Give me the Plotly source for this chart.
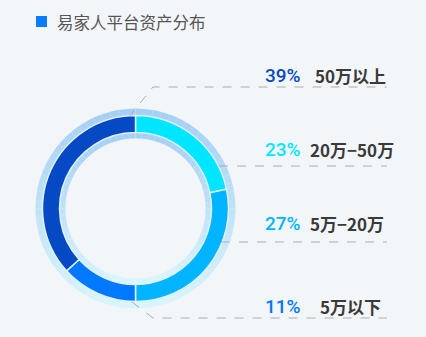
import plotly.graph_objects as go
import numpy as np

# ---- data ----
categories = ["20万-50万", "5万-20万", "5万以下", "50万以上"]
pct_labels = ["23%", "27%", "11%", "39%"]
arc_values = [21.7, 28.3, 13.3, 36.7]   # arc sizes as drawn in the picture
seg_colors = ["#00e6ff", "#00b4ff", "#0078ff", "#0549c4"]
title_text = "易家人平台资产分布"

W, H = 426, 337
cx, cy = 135.5, 208.5  # pixel centre (y from top)

def dom(r):
    x0, x1 = (cx - r) / W, (cx + r) / W
    yb = H - cy
    return dict(x=[x0, x1], y=[(yb - r) / H, (yb + r) / H])

fig = go.Figure()

# background gradient ring (style only)
n = 72
top = np.array([0xa6, 0xcf, 0xf4])
bot = np.array([0xd9, 0xf6, 0xfc])
bg_cols = []
for i in range(n):
    ang = (i + 0.5) / n * 2 * np.pi
    t = (1 - np.cos(ang)) / 2
    c = top + (bot - top) * t
    bg_cols.append("rgb(%d,%d,%d)" % tuple(c.astype(int)))
fig.add_trace(go.Pie(values=[1] * n, hole=0.70, sort=False, direction="clockwise",
                     rotation=0, marker=dict(colors=bg_cols, line=dict(width=0)),
                     textinfo="none", hoverinfo="skip", showlegend=False,
                     domain=dom(100)))

fig.add_trace(go.Pie(labels=categories, values=arc_values, hole=76 / 93, sort=False,
                     direction="clockwise", rotation=0,
                     marker=dict(colors=seg_colors, line=dict(color="#dff1fc", width=1.5)),
                     textinfo="none", hoverinfo="label", showlegend=False,
                     domain=dom(93)))

shapes = []
dash = dict(color="#a9adb3", width=1, dash="dash")
# leader lines
shapes.append(dict(type="path", path="M 129 117 L 153 87 L 387 87", line=dash, xref="x", yref="y"))
shapes.append(dict(type="line", x0=219, y0=166, x1=387, y1=166, line=dash, xref="x", yref="y"))
shapes.append(dict(type="line", x0=221, y0=242, x1=387, y1=242, line=dash, xref="x", yref="y"))
shapes.append(dict(type="path", path="M 132 302 L 153 318 L 387 318", line=dash, xref="x", yref="y"))
# title marker
shapes.append(dict(type="rect", x0=36, y0=16, x1=47, y1=27, fillcolor="#0a7bff",
                   line=dict(width=0), xref="x", yref="y"))

annotations = []
cjk = "Noto Sans CJK SC, sans-serif"
annotations.append(dict(x=55, y=22, text=title_text, showarrow=False, xanchor="left",
                        yanchor="middle", font=dict(family=cjk, size=16.5, color="#555555")))
label_pos = {"39%": (75, 313), "23%": (149, 308), "27%": (223, 308), "11%": (306, 318)}
for cat, p, col in zip(categories, pct_labels, seg_colors):
    y, lx = label_pos[p]
    annotations.append(dict(x=303, y=y, text=p, showarrow=False, xanchor="right",
                            yanchor="middle",
                            font=dict(family="Roboto, Arial, sans-serif", size=19,
                                      weight=500, color=col)))
    annotations.append(dict(x=lx, y=y, text="<b>%s</b>" % cat.replace("-", "−"), showarrow=False,
                            xanchor="left", yanchor="middle",
                            font=dict(family=cjk, size=17, color="#3a3a3a")))

fig.update_layout(
    width=W, height=H, margin=dict(l=0, r=0, t=0, b=0),
    paper_bgcolor="#f3f6f9", plot_bgcolor="rgba(0,0,0,0)",
    xaxis=dict(range=[0, W], visible=False, fixedrange=True),
    yaxis=dict(range=[H, 0], visible=False, fixedrange=True),
    shapes=shapes, annotations=annotations,
)
fig.write_html("out.html")
